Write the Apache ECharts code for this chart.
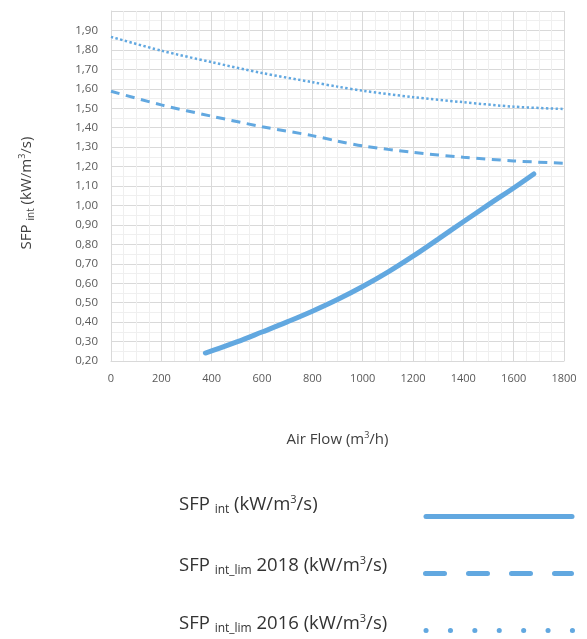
<!DOCTYPE html>
<html>
<head>
<meta charset="utf-8">
<script src="https://cdn.jsdelivr.net/npm/echarts@6/dist/echarts.min.js"></script>
<style>
  html, body { margin: 0; padding: 0; background: #ffffff; }
  #chart { width: 587px; height: 639px; }
</style>
</head>
<body>
<div id="chart"></div>
<script>
// Air flow (m³/h) vs. specific fan power (kW/m³/s)
const sfpInt = [
  [375, 0.241], [400, 0.252], [500, 0.298], [600, 0.349], [700, 0.401],
  [800, 0.456], [900, 0.516], [1000, 0.583], [1100, 0.657], [1200, 0.739],
  [1300, 0.827], [1400, 0.916], [1500, 1.004], [1600, 1.090], [1680, 1.162]
];
const sfpLim2018 = [
  [0, 1.587], [200, 1.517], [400, 1.459], [600, 1.405], [800, 1.359],
  [900, 1.331], [1000, 1.306], [1200, 1.273], [1400, 1.248], [1600, 1.229],
  [1800, 1.217]
];
const sfpLim2016 = [
  [0, 1.867], [200, 1.796], [400, 1.737], [600, 1.681], [800, 1.634],
  [900, 1.611], [1000, 1.590], [1200, 1.557], [1400, 1.531], [1600, 1.508],
  [1800, 1.496]
];
const xTicks = { min: 0, max: 1800, step: 200 };
const yTicks = { min: 0.2, max: 2.0, step: 0.1 };

const BLUE = '#62a8e0';
const FONT = 'Open Sans';

const chart = echarts.init(document.getElementById('chart'), null, { renderer: 'canvas' });

const titleRich = {
  n: { fontSize: 15, lineHeight: 18, color: '#404040', fontFamily: FONT },
  sub: { fontSize: 10, lineHeight: 12, verticalAlign: 'bottom', color: '#404040', fontFamily: FONT },
  sup: { fontSize: 9, lineHeight: 14, verticalAlign: 'top', color: '#404040', fontFamily: FONT }
};
const legendRich = {
  n: { fontSize: 18.5, lineHeight: 22, fill: '#333333', fontFamily: FONT },
  sub: { fontSize: 12, lineHeight: 13, verticalAlign: 'bottom', fill: '#333333', fontFamily: FONT },
  sup: { fontSize: 11, lineHeight: 17, verticalAlign: 'top', fill: '#333333', fontFamily: FONT }
};

function legendItem(label, y, lineStyle) {
  return [
    {
      type: 'text', x: 179, y: y,
      style: {
        text: label, rich: legendRich, verticalAlign: 'middle', align: 'left',
        fontFamily: FONT, fontSize: 18.5, fill: '#333333'
      }
    },
    {
      type: 'line',
      shape: lineStyle.shape,
      style: Object.assign({ stroke: BLUE, lineCap: 'round' }, lineStyle.style)
    }
  ];
}

const option = {
  animation: false,
  backgroundColor: '#ffffff',
  grid: { left: 111, top: 11, right: 23, bottom: 278, containLabel: false },
  xAxis: {
    type: 'value',
    min: xTicks.min, max: xTicks.max, interval: xTicks.step,
    name: '{n|Air Flow (m}{sup|3}{n|/h)}',
    nameLocation: 'middle', nameGap: 70,
    nameTextStyle: { rich: titleRich },
    axisLine: { show: true, lineStyle: { color: '#d9d9d9', width: 1 } },
    axisTick: { show: false },
    axisLabel: {
      color: '#595959', fontSize: 11, fontFamily: FONT, margin: 12,
      formatter: v => String(v)
    },
    splitLine: { show: true, lineStyle: { color: '#d9d9d9', width: 1 } },
    minorTick: { show: false, splitNumber: 4 },
    minorSplitLine: { show: true, lineStyle: { color: '#efefef', width: 1 } }
  },
  yAxis: {
    type: 'value',
    min: yTicks.min, max: yTicks.max, interval: yTicks.step,
    name: '{n|SFP }{sub|int}{n| (kW/m}{sup|3}{n|/s)}',
    nameLocation: 'middle', nameGap: 75, nameRotate: 90,
    nameTextStyle: { rich: titleRich, padding: [0, 14, 0, 0] },
    axisLine: { show: true, lineStyle: { color: '#d9d9d9', width: 1 } },
    axisTick: { show: false },
    axisLabel: {
      color: '#595959', fontSize: 11.5, fontFamily: FONT, margin: 13,
      formatter: v => (v > 1.995 ? '' : v.toFixed(2).replace('.', ','))
    },
    splitLine: { show: true, lineStyle: { color: '#d9d9d9', width: 1 } },
    minorTick: { show: false, splitNumber: 2 },
    minorSplitLine: { show: true, lineStyle: { color: '#efefef', width: 1 } }
  },
  series: [
    {
      name: 'SFP int', type: 'line', data: sfpInt, smooth: 0.4,
      showSymbol: false, symbol: 'none',
      lineStyle: { color: BLUE, width: 5, cap: 'round' }
    },
    {
      name: 'SFP int_lim 2018', type: 'line', data: sfpLim2018, smooth: 0.3,
      showSymbol: false, symbol: 'none',
      lineStyle: { color: BLUE, width: 3, type: [9, 6.5] }
    },
    {
      name: 'SFP int_lim 2016', type: 'line', data: sfpLim2016, smooth: 0.3,
      showSymbol: false, symbol: 'none',
      lineStyle: { color: BLUE, width: 2.5, type: [2.4, 2.4] }
    }
  ],
  graphic: [].concat(
    legendItem('{n|SFP }{sub|int}{n| (kW/m}{sup|3}{n|/s)}', 505, {
      shape: { x1: 426, y1: 516.5, x2: 572, y2: 516.5 },
      style: { lineWidth: 5 }
    }),
    legendItem('{n|SFP }{sub|int_lim}{n| 2018 (kW/m}{sup|3}{n|/s)}', 566, {
      shape: { x1: 425.5, y1: 573.5, x2: 571.5, y2: 573.5 },
      style: { lineWidth: 5, lineDash: [19, 24] }
    }),
    legendItem('{n|SFP }{sub|int_lim}{n| 2016 (kW/m}{sup|3}{n|/s)}', 624, {
      shape: { x1: 426, y1: 630.5, x2: 573, y2: 630.5 },
      style: { lineWidth: 5, lineDash: [0.1, 24.3] }
    })
  )
};

chart.setOption(option);
</script>
</body>
</html>
